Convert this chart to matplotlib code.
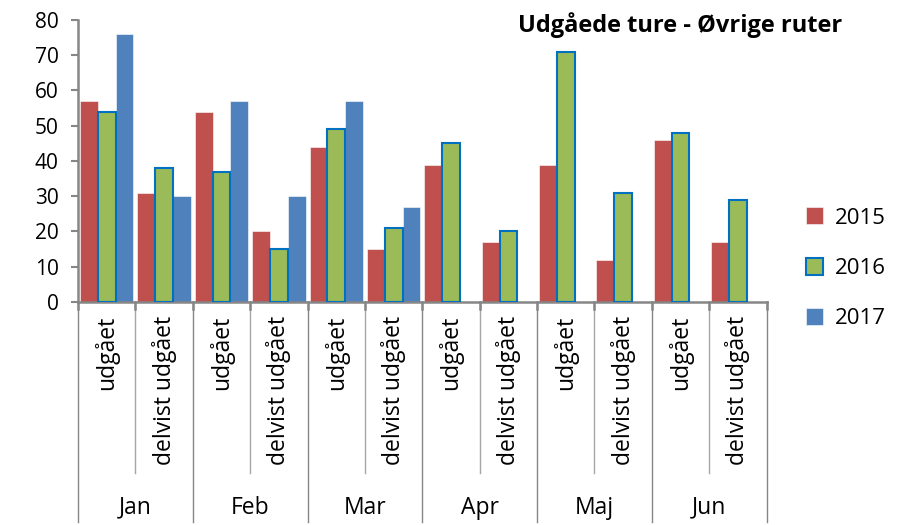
"""
Udgåede ture - Øvrige ruter, grouped bars per month
with a two level category axis.
"""

import numpy as np
import matplotlib
matplotlib.use("Agg")
import matplotlib.pyplot as plt
from matplotlib.transforms import blended_transform_factory

months = ["Jan", "Feb", "Mar", "Apr", "Maj", "Jun"]
sub_labels = ["udgået", "delvist udgået"]
years = ["2015", "2016", "2017"]

vals_2015 = [57, 31, 54, 20, 44, 15, 39, 17, 39, 12, 46, 17]
vals_2016 = [54, 38, 37, 15, 49, 21, 45, 20, 71, 31, 48, 29]
vals_2017 = [76, 30, 57, 30, 57, 27, np.nan, np.nan, np.nan, np.nan, np.nan, np.nan]

colors = ["#C0504D", "#9BBB59", "#4F81BD"]
grey = "#868686"

plt.rcParams["font.family"] = ["Open Sans", "DejaVu Sans"]

fig = plt.figure(figsize=(9.03, 5.25), dpi=100)
ax = fig.add_axes([0.0864, 0.4248, 0.7626, 0.5371])

n = len(vals_2015)
x = np.arange(n)
w = 0.31
series = [vals_2015, vals_2016, vals_2017]
for i, (vals, col, lab) in enumerate(zip(series, colors, years)):
    if i == 1:
        ax.bar(x + (i - 1) * w, vals, w, color=col, edgecolor="#0070C0",
               linewidth=1.5, label=lab, zorder=3)
    else:
        ax.bar(x + (i - 1) * w, vals, w, color=col, edgecolor="white",
               linewidth=0.4, label=lab, zorder=2)

ax.set_xlim(-0.5, n - 0.5)
ax.set_ylim(0, 80)
ax.set_yticks(range(0, 81, 10))
ax.tick_params(axis="y", labelsize=15, length=5, width=1.5, color=grey, pad=9)
ax.set_xticks([])
for s in ["top", "right"]:
    ax.spines[s].set_visible(False)
for s in ["left", "bottom"]:
    ax.spines[s].set_color(grey)
    ax.spines[s].set_linewidth(1.8)

# two level category axis
trans = blended_transform_factory(ax.transData, ax.transAxes)
for k in range(n + 1):
    xb = k - 0.5
    low = -0.78 if k % 2 == 0 else -0.606
    ax.plot([xb, xb], [0, low], transform=trans, color=grey if k % 2 == 0 else "#A6A6A6",
            lw=1.0, clip_on=False)
    ax.plot([xb, xb], [0, -0.025], transform=trans, color=grey, lw=1.8, clip_on=False)

for k in range(n):
    ax.text(k, -0.05, sub_labels[k % 2], transform=trans, rotation=90,
            ha="center", va="top", fontsize=16.5)
for m, name in enumerate(months):
    ax.text(2 * m + 0.5, -0.73, name, transform=trans, ha="center", va="center",
            fontsize=16.5)

fig.text(0.753, 0.952, "Udgåede ture - Øvrige ruter", ha="center", va="center",
         fontsize=17, fontweight="bold")

leg = fig.legend(loc="upper left", bbox_to_anchor=(0.87, 0.643), frameon=False,
                 fontsize=16, handlelength=0.8, handleheight=0.8,
                 labelspacing=1.3, handletextpad=0.5)

fig.savefig("out.png", dpi=100)
